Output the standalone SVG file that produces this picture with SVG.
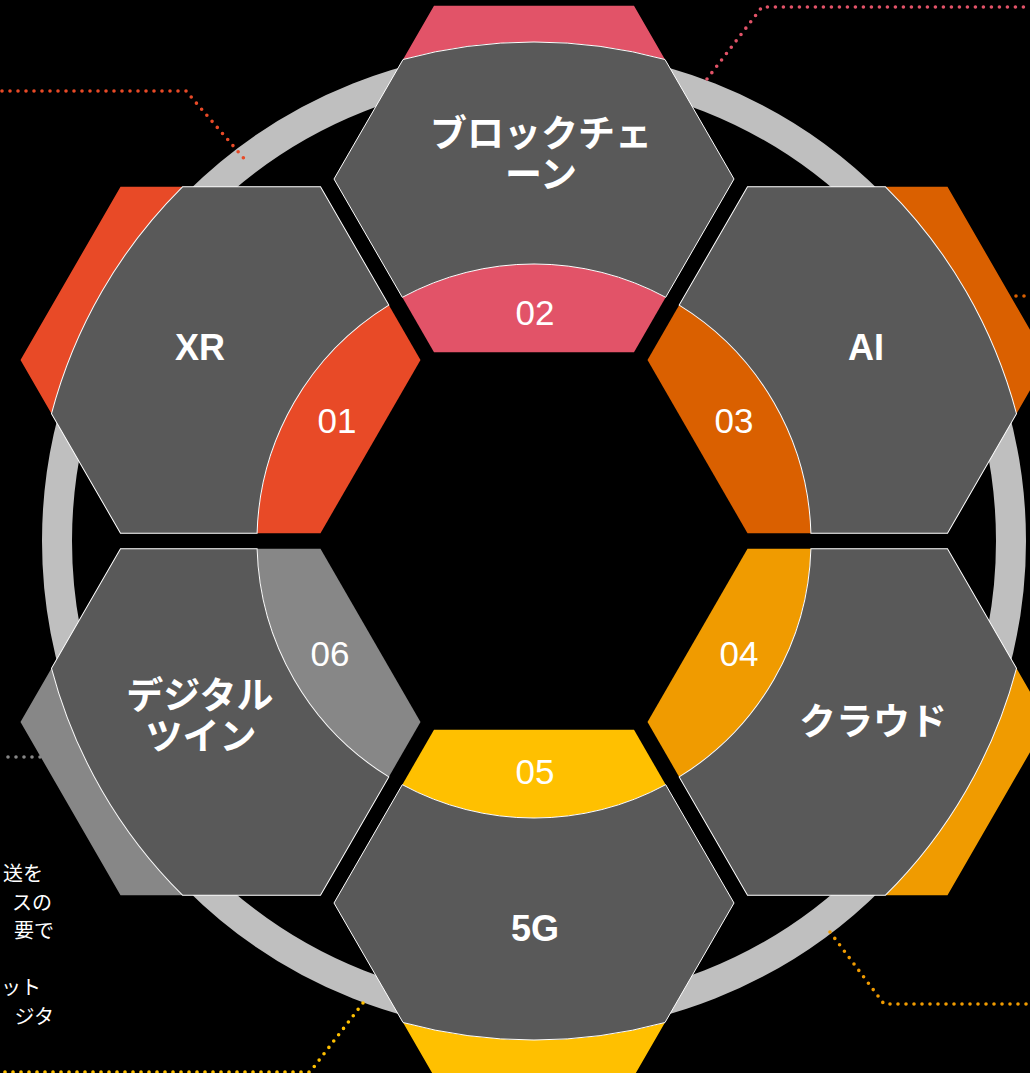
<svg xmlns="http://www.w3.org/2000/svg" width="1030" height="1073" viewBox="0 0 1030 1073">
<style>
.hex{fill:#595959;stroke:#ffffff;stroke-width:1}
.lbl{font-family:"Liberation Sans","Noto Sans CJK JP",sans-serif;font-weight:bold;font-size:36px;fill:#ffffff;text-anchor:middle}
.jp{font-family:"Noto Sans CJK JP","Liberation Sans",sans-serif;font-weight:bold;font-size:37px;fill:#ffffff;text-anchor:middle}
.num{font-family:"Liberation Sans",sans-serif;font-size:35px;fill:#ffffff;text-anchor:middle}
.dot{fill:none;stroke-width:3.6;stroke-linecap:round;stroke-dasharray:0 8}
.note{font-family:"Noto Sans CJK JP",sans-serif;font-size:20px;fill:#ffffff;text-anchor:end}
</style>
<defs>
<path id="outer" d="M-100,-535.2 L100,-535.2 L131,-481.5 A499,499 0 0 0 -131,-481.5 Z"/>
<path id="mid" d="M-131,-481.5 A499,499 0 0 1 131,-481.5 L200,-362 L131.7,-243.7 A277,277 0 0 0 -131.7,-243.7 L-200,-362 Z"/>
<path id="inner" d="M131.7,-243.7 L100,-188.8 L-100,-188.8 L-131.7,-243.7 A277,277 0 0 1 131.7,-243.7 Z"/>
</defs>
<rect width="1030" height="1073" fill="#000000"/>
<circle id="ring" cx="534" cy="541" r="477" fill="none" stroke="#BFBFBF" stroke-width="30"/>
<g id="connectors">
<path class="dot" stroke="#E84A27" d="M2,91 H186 L247,162"/>
<path class="dot" stroke="#E25368" d="M707,79 L762,7 H1030"/>
<path class="dot" stroke="#DA6000" d="M960,296 H1030"/>
<path class="dot" stroke="#F09B00" d="M830,932 L884,1004 H1030"/>
<path class="dot" stroke="#FFC000" d="M363,1003 L310,1072 H0"/>
<path class="dot" stroke="#878787" d="M80,757 H0"/>
</g>
<g id="node-01">
<g transform="translate(534,541) rotate(-60)">
<use href="#outer" fill="#E84A27"/><use href="#inner" fill="#E84A27"/><use href="#mid" class="hex"/>
</g>
<text class="lbl" x="200" y="360">XR</text>
<text class="num" x="337" y="433">01</text>
</g>
<g id="node-02">
<g transform="translate(534,541)">
<use href="#outer" fill="#E25368"/><use href="#inner" fill="#E25368"/><use href="#mid" class="hex"/>
</g>
<text class="jp"><tspan x="541" y="147">ブロックチェ</tspan><tspan x="541" y="188">ーン</tspan></text>
<text class="num" x="535" y="325">02</text>
</g>
<g id="node-03">
<g transform="translate(534,541) rotate(60)">
<use href="#outer" fill="#DA6000"/><use href="#inner" fill="#DA6000"/><use href="#mid" class="hex"/>
</g>
<text class="lbl" x="866" y="360">AI</text>
<text class="num" x="734" y="433">03</text>
</g>
<g id="node-04">
<g transform="translate(534,541) rotate(120)">
<use href="#outer" fill="#F09B00"/><use href="#inner" fill="#F09B00"/><use href="#mid" class="hex"/>
</g>
<text class="jp" x="873" y="735">クラウド</text>
<text class="num" x="739" y="666">04</text>
</g>
<g id="node-05">
<g transform="translate(534,541) rotate(180)">
<use href="#outer" fill="#FFC000"/><use href="#inner" fill="#FFC000"/><use href="#mid" class="hex"/>
</g>
<text class="lbl" x="535" y="941">5G</text>
<text class="num" x="535" y="784">05</text>
</g>
<g id="node-06">
<g transform="translate(534,541) rotate(-120)">
<use href="#outer" fill="#878787"/><use href="#inner" fill="#878787"/><use href="#mid" class="hex"/>
</g>
<text class="jp"><tspan x="200" y="709">デジタル</tspan><tspan x="201" y="750">ツイン</tspan></text>
<text class="num" x="330" y="666">06</text>
</g>
<g id="note">
<text class="note" x="43" y="881">送を</text>
<text class="note" x="52" y="910">スの</text>
<text class="note" x="54" y="938">要で</text>
<text class="note" x="41" y="995">ット</text>
<text class="note" x="54" y="1024">ジタ</text>
</g>
</svg>
